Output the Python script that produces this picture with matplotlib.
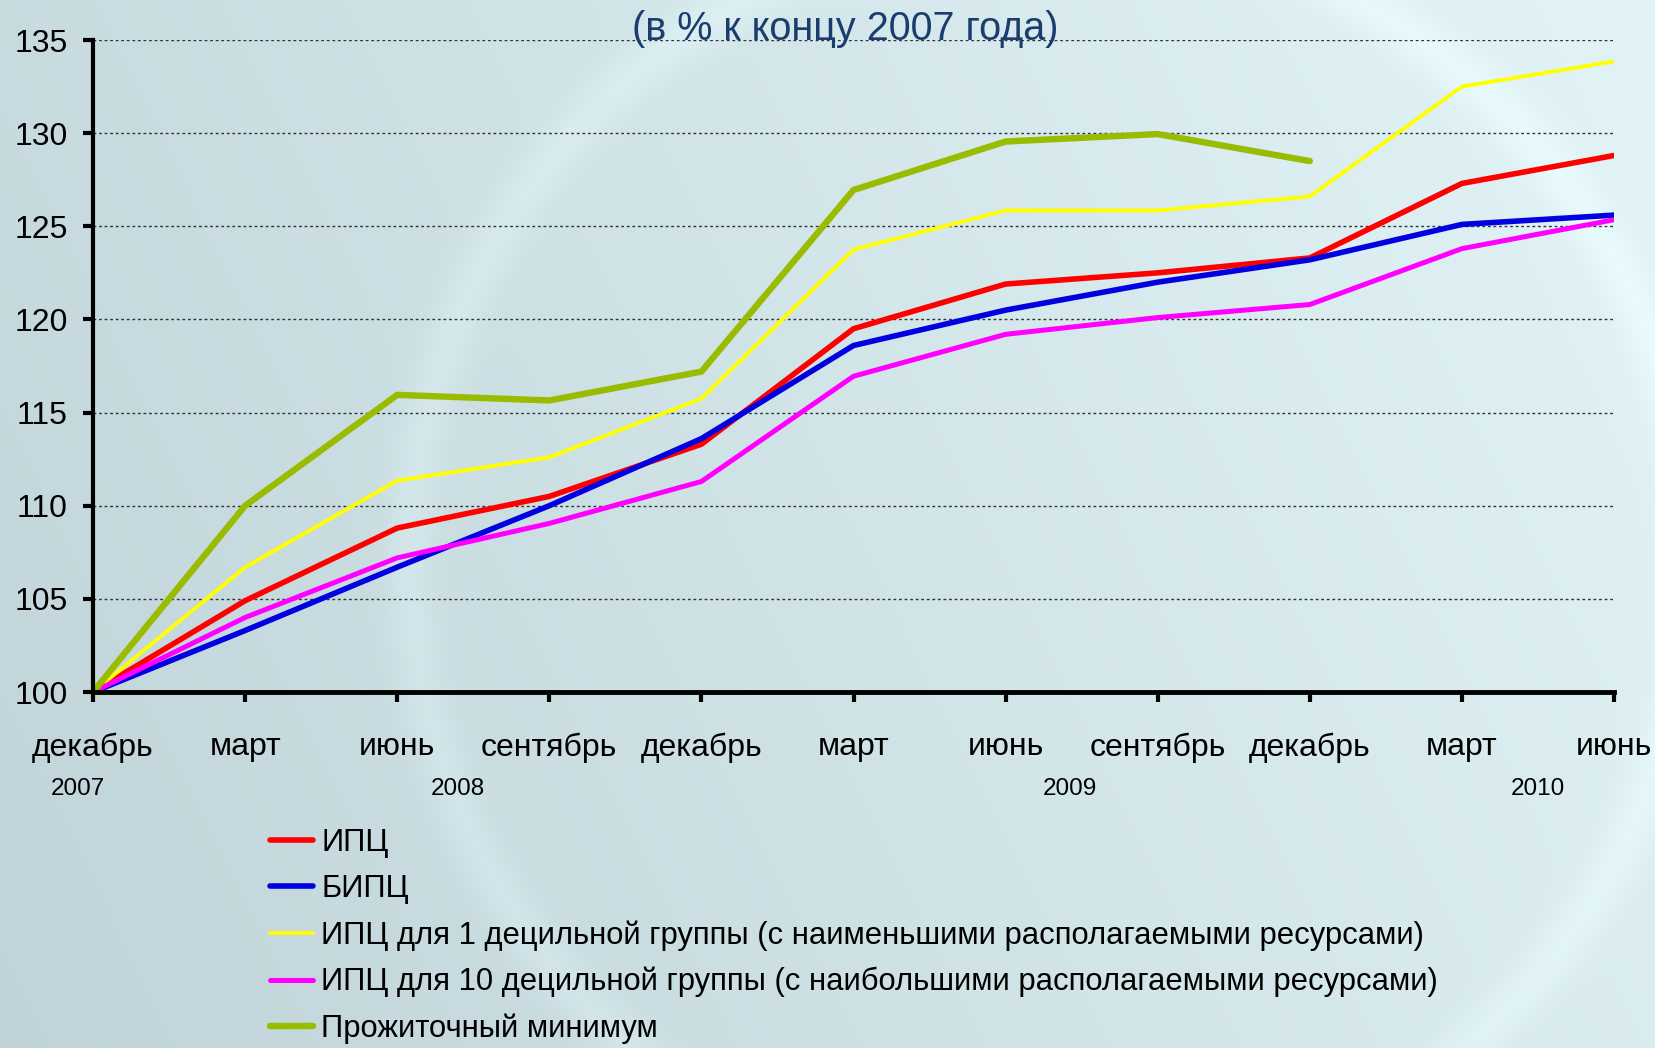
import numpy as np
import matplotlib.pyplot as plt
from matplotlib.transforms import blended_transform_factory

plt.rcParams['font.family'] = ['Liberation Sans', 'DejaVu Sans']

# data (в % к концу 2007 года)
months = ['декабрь', 'март', 'июнь', 'сентябрь', 'декабрь', 'март',
          'июнь', 'сентябрь', 'декабрь', 'март', 'июнь']
years = ['2007', '2008', '2009', '2010']
year_pos = [-0.1, 2.4, 6.42, 9.5]

cpi = [100, 104.9, 108.8, 110.5, 113.3, 119.5, 121.9, 122.5, 123.3, 127.3, 128.8]
bcpi = [100, 103.3, 106.7, 110.0, 113.6, 118.6, 120.5, 122.0, 123.2, 125.1, 125.6]
cpi_d1 = [100, 106.7, 111.35, 112.6, 115.75, 123.75, 125.85, 125.85, 126.6, 132.5, 133.85]
cpi_d10 = [100, 104.0, 107.2, 109.05, 111.3, 116.95, 119.2, 120.1, 120.8, 123.8, 125.35]
subsistence = [100, 110.0, 115.95, 115.65, 117.2, 126.95, 129.55, 129.95, 128.5]

labels = ['ИПЦ', 'БИПЦ',
          'ИПЦ для 1 децильной группы (с наименьшими располагаемыми ресурсами)',
          'ИПЦ для 10 децильной группы (с наибольшими располагаемыми ресурсами)',
          'Прожиточный минимум']
colors = ['#FF0000', '#0000E0', '#FFFF00', '#FF00FF', '#99BB00']
widths = [4.0, 4.0, 2.8, 3.6, 4.6]

fig = plt.figure(figsize=(16.56, 10.48), dpi=100)

# background gradient
bg = fig.add_axes([0, 0, 1, 1], zorder=-10)
h, w = 262, 414
yy, xx = np.mgrid[0:h, 0:w]
xs = xx / (w - 1)
ys = yy / (h - 1)
left = np.array([0.75, 0.83, 0.85])
right = np.array([0.88, 0.95, 0.96])
t = np.clip(xs * 0.8 + (1 - ys) * 0.25, 0, 1)[..., None]
img = left * (1 - t) + right * t
# faint light arc
d = np.hypot((xx - 262) * 4, (yy - 140) * 4)
img += 0.035 * np.exp(-((d - 640) / 25) ** 2)[..., None]
img = np.clip(img, 0, 1)
bg.imshow(img, aspect='auto', extent=[0, 1, 0, 1], origin='upper')
bg.axis('off')

ax = fig.add_axes([93 / 1656, 1 - 692 / 1048, (1614 - 93) / 1656, (692 - 40) / 1048])
ax.set_facecolor('none')

x = np.arange(len(months))
series = [cpi, bcpi, cpi_d1, cpi_d10, subsistence]
for vals, lab, c, lw in zip(series, labels, colors, widths):
    ax.plot(x[:len(vals)], vals, color=c, lw=lw, label=lab,
            solid_joinstyle='round', solid_capstyle='round')

ax.set_xlim(0, 10)
ax.set_ylim(100, 135)
ax.set_yticks(np.arange(100, 136, 5))
ax.set_xticks(x)
ax.set_xticklabels(months)
ax.yaxis.grid(True, linestyle=(0, (2, 2)), color='#333333', lw=1.0)
ax.set_axisbelow(True)

for s in ['top', 'right']:
    ax.spines[s].set_visible(False)
ax.spines['left'].set_linewidth(3)
ax.spines['bottom'].set_linewidth(3.5)
ax.tick_params(axis='y', length=7, width=3, pad=11, labelsize=23)
ax.tick_params(axis='x', length=7, width=3, pad=22, labelsize=23)

tr = blended_transform_factory(ax.transData, ax.transAxes)
for yr, xp in zip(years, year_pos):
    ax.text(xp, -0.149, yr, transform=tr, ha='center', va='center', fontsize=17.5)

fig.text(845 / 1656, 1 - 29 / 1048, '(в % к концу 2007 года)', ha='center', va='center',
         fontsize=28.5, color='#1B3D6D')

fig.legend(loc='center left', bbox_to_anchor=(270 / 1656, 1 - 936 / 1048), frameon=False,
           fontsize=22.3, handlelength=1.4, handletextpad=0.25, labelspacing=0.52,
           borderpad=0, borderaxespad=0)

fig.savefig('out.png', dpi=100)
